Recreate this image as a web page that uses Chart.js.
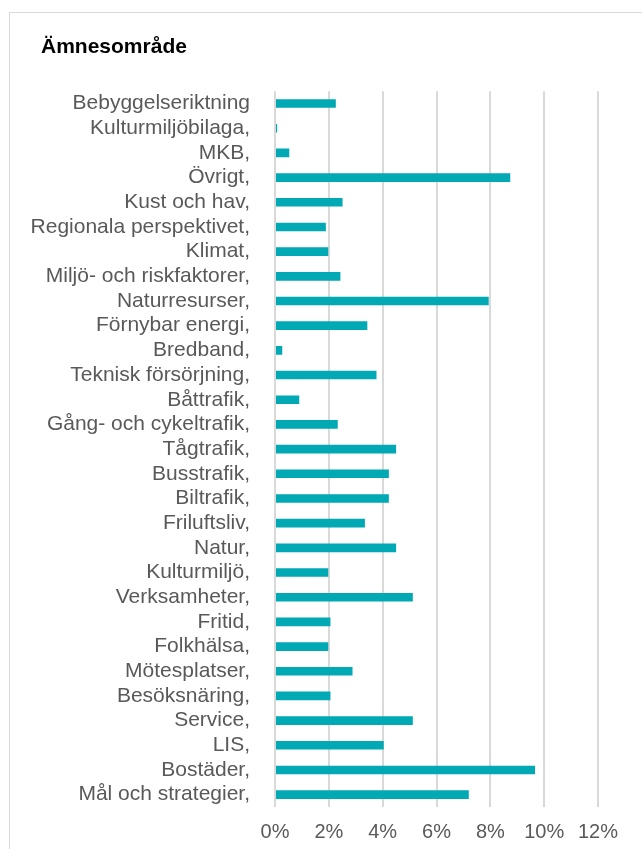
<!DOCTYPE html>
<html>
<head>
<meta charset="utf-8">
<script src="https://cdn.jsdelivr.net/npm/chart.js@4"></script>
<style>
    html, body { margin: 0; padding: 0; background: #fff; overflow: hidden; }
    #frame {
        position: absolute; left: 9px; top: 12px;
        width: 700px; height: 900px;
        border: 1px solid #d9d9d9; box-sizing: border-box;
    }
    #wrap { position: absolute; left: 0; top: 0; width: 642px; height: 849px; }
</style>
</head>
<body>
<div id="frame"></div>
<div id="wrap"><canvas id="chart"></canvas></div>
<script>
const categories = [
    "Bebyggelseriktning", "Kulturmiljöbilaga,", "MKB,", "Övrigt,", "Kust och hav,",
    "Regionala perspektivet,", "Klimat,", "Miljö- och riskfaktorer,", "Naturresurser,",
    "Förnybar energi,", "Bredband,", "Teknisk försörjning,", "Båttrafik,",
    "Gång- och cykeltrafik,", "Tågtrafik,", "Busstrafik,", "Biltrafik,", "Friluftsliv,",
    "Natur,", "Kulturmiljö,", "Verksamheter,", "Fritid,", "Folkhälsa,", "Mötesplatser,",
    "Besöksnäring,", "Service,", "LIS,", "Bostäder,", "Mål och strategier,"
];

// andel i procent
const shares = [
    2.26, 0.08, 0.53, 8.74, 2.51,
    1.89, 1.98, 2.43, 7.94,
    3.43, 0.27, 3.77, 0.90,
    2.33, 4.50, 4.23, 4.23, 3.34,
    4.50, 1.98, 5.12, 2.06, 1.98, 2.88,
    2.06, 5.12, 4.04, 9.66, 7.20
];

const xTicks = [0, 2, 4, 6, 8, 10, 12];

const font = "'Liberation Sans', Arial, sans-serif";

// flytta titeln in till samma vänsterkant som i originalet
const titleIndent = {
    id: "titleIndent",
    afterLayout(chart) {
        if (chart.titleBlock) chart.titleBlock.left = 41;
    }
};

new Chart(document.getElementById("chart"), {
    type: "bar",
    data: {
        labels: categories,
        datasets: [{
            label: "Ämnesområde",
            data: shares,
            backgroundColor: "#00A9B4",
            borderWidth: 0,
            barPercentage: 0.35,
            categoryPercentage: 1
        }]
    },
    options: {
        indexAxis: "y",
        responsive: true,
        maintainAspectRatio: false,
        animation: false,
        layout: { padding: { left: 10, right: 44, top: 12, bottom: 5 } },
        plugins: {
            legend: { display: false },
            tooltip: { enabled: false },
            title: {
                display: true,
                text: "Ämnesområde",
                align: "start",
                color: "#000",
                font: { family: font, size: 21, weight: "bold" },
                padding: { top: 23, bottom: 31 }
            }
        },
        scales: {
            x: {
                min: xTicks[0],
                max: xTicks[xTicks.length - 1],
                afterBuildTicks: scale => {
                    scale.ticks = xTicks.map(v => ({ value: v }));
                },
                afterFit: scale => { scale.height = 37; },
                grid: { color: "#d9d9d9", lineWidth: 2, drawTicks: false },
                border: { display: false },
                ticks: {
                    color: "#595959",
                    padding: 13,
                    font: { family: font, size: 20 },
                    callback: v => v + "%"
                }
            },
            y: {
                afterFit: scale => { scale.width = 275 - 10; },
                grid: { display: false },
                border: { display: false },
                ticks: {
                    color: "#595959",
                    padding: 17,
                    autoSkip: false,
                    font: { family: font, size: 21 }
                }
            }
        }
    },
    plugins: [titleIndent]
});
</script>
</body>
</html>
